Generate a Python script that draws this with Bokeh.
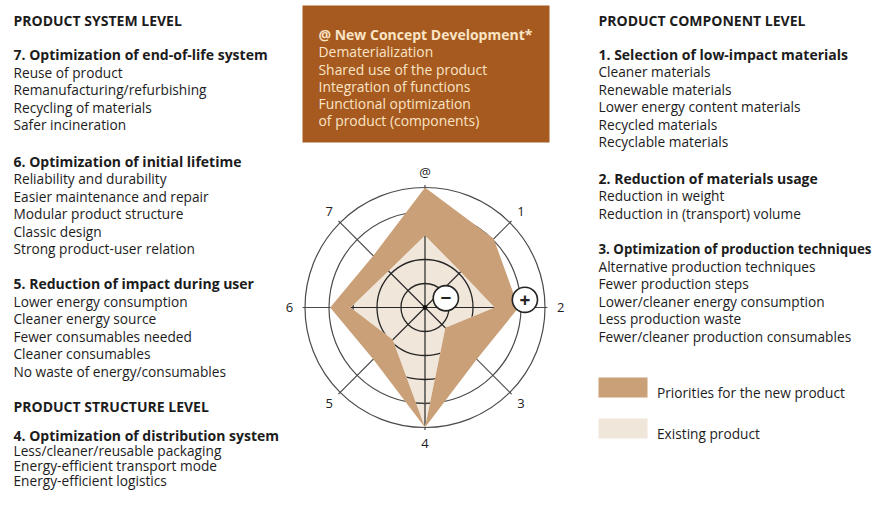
import numpy as np
from bokeh.plotting import figure
from bokeh.models import Range1d
from bokeh.core.properties import value
from bokeh.embed import file_html
from bokeh.resources import INLINE

# ---------------- data ----------------
axis_labels = ["@", "1", "2", "3", "4", "5", "6", "7"]
priorities = [1.00, 0.81, 0.78, 0.61, 1.00, 0.61, 0.79, 0.61]
existing = [0.60, 0.42, 0.58, 0.24, 1.00, 0.38, 0.62, 0.43]
inner_rings = [0.2, 0.4, 0.6, 0.8]
outer_rings = [0.8, 1.0]
sign_labels = ["\u2212", "+"]
sign_radius = [0.19, 0.835]
sign_angle_deg = [24.0, 4.4]

legend_labels = ["Priorities for the new product", "Existing product"]

box_title = "@ New Concept Development*"
box_items = ["Dematerialization", "Shared use of the product", "Integration of functions",
             "Functional optimization", "of product (components)"]

left_title1 = "PRODUCT SYSTEM LEVEL"
g7_head = "7. Optimization of end-of-life system"
g7_items = ["Reuse of product", "Remanufacturing/refurbishing", "Recycling of materials",
            "Safer incineration"]
g6_head = "6. Optimization of initial lifetime"
g6_items = ["Reliability and durability", "Easier maintenance and repair",
            "Modular product structure", "Classic design", "Strong product-user relation"]
g5_head = "5. Reduction of impact during user"
g5_items = ["Lower energy consumption", "Cleaner energy source", "Fewer consumables needed",
            "Cleaner consumables", "No waste of energy/consumables"]
left_title2 = "PRODUCT STRUCTURE LEVEL"
g4_head = "4. Optimization of distribution system"
g4_items = ["Less/cleaner/reusable packaging", "Energy-efficient transport mode",
            "Energy-efficient  logistics"]

right_title = "PRODUCT COMPONENT LEVEL"
g1_head = "1. Selection of low-impact materials"
g1_items = ["Cleaner materials", "Renewable materials", "Lower energy content materials",
            "Recycled materials", "Recyclable materials"]
g2_head = "2. Reduction of materials usage"
g2_items = ["Reduction in weight", "Reduction in (transport) volume"]
g3_head = "3. Optimization of production techniques"
g3_items = ["Alternative production techniques", "Fewer production steps",
            "Lower/cleaner energy consumption", "Less production waste",
            "Fewer/cleaner production consumables"]

# ---------------- layout / style ----------------
CX, CY, R = 424.5, 307.0, 120.0   # radar centre (picture px) and radius of outer ring
W, H = 875, 492

def X(px):
    return (px - CX) / R

def Y(py):
    return (CY - py) / R

FONT = value("Open Sans")
TXT = "#1c1c1c"
DARK = "#C9A077"
LIGHT = "#F1E6DA"
BOX = "#A65A1F"
BOX_TXT = "#FBE4C6"
LS = 17.45

p = figure(width=W, height=H, x_range=Range1d(X(0), X(W)),
           y_range=Range1d(Y(H), Y(0)), output_backend="svg",
           toolbar_location=None, x_axis_location=None, y_axis_location=None,
           min_border=0, background_fill_color="white", border_fill_color="white")
p.outline_line_color = None
p.xgrid.visible = False
p.ygrid.visible = False

theta = np.deg2rad(90.0 - 45.0 * np.arange(len(axis_labels)))
cs, sn = np.cos(theta), np.sin(theta)
pr = np.array(priorities)
ex = np.array(existing)
pr_x, pr_y = list(pr * cs), list(pr * sn)
ex_x, ex_y = list(ex * cs), list(ex * sn)

# 1. existing product area
p.patch(ex_x, ex_y, fill_color=LIGHT, line_color=None)
# 2. inner grid (visible only inside the existing-product area)
n = len(inner_rings)
p.circle(x=[0] * n, y=[0] * n, radius=inner_rings, fill_color=None,
         line_color="#262626", line_width=1.3)
p.segment(x0=[0] * 8, y0=[0] * 8, x1=list(cs), y1=list(sn), line_color="#262626", line_width=1.2)
# 3. white mask outside the existing-product area
t = np.linspace(0, 2 * np.pi, 240, endpoint=False)
mask_x = list(1.12 * np.cos(t))
mask_y = list(1.12 * np.sin(t))
p.multi_polygons(xs=[[[mask_x, ex_x]]], ys=[[[mask_y, ex_y]]], fill_color="white", line_color=None)
# 4. outer grid
m = len(outer_rings)
p.circle(x=[0] * m, y=[0] * m, radius=outer_rings, fill_color=None,
         line_color="#4a4a4a", line_width=1.2)
p.segment(x0=list(ex * cs), y0=list(ex * sn), x1=list(1.02 * cs), y1=list(1.02 * sn),
          line_color="#4a4a4a", line_width=1.2)
# 5. priorities area (ring between existing and priorities)
p.multi_polygons(xs=[[[pr_x, ex_x]]], ys=[[[pr_y, ex_y]]], fill_color=DARK, line_color=None)
# 6. centre dot, signs, axis labels
p.scatter([0], [0], size=4, color="#111111")
sa = np.deg2rad(np.array(sign_angle_deg))
sx = list(np.array(sign_radius) * np.cos(sa))
sy = list(np.array(sign_radius) * np.sin(sa))
p.circle(x=sx, y=sy, radius=0.105, fill_color="white", line_color="#222222", line_width=1.6)
p.text(x=sx, y=sy, text=sign_labels, text_align="center", text_baseline="middle",
       text_font=FONT, text_font_style="bold", text_font_size="19px", text_color="#222222")
p.text(x=list(1.13 * cs), y=list(1.13 * sn), text=axis_labels, text_align="center",
       text_baseline="middle", text_font=FONT, text_font_size="13px", text_color="#222222")

# ---------------- text blocks ----------------
def block(x_px, base_px, head, items, bold_size="14px", size="13.7px", spacing=LS, color=TXT):
    p.text(x=[X(x_px)], y=[Y(base_px)], text=[head], text_font=FONT, text_font_style="bold",
           text_font_size=bold_size, text_color=color, text_baseline="alphabetic")
    if items:
        ys = [Y(base_px + spacing * (i + 1)) for i in range(len(items))]
        p.text(x=[X(x_px)] * len(items), y=ys, text=items, text_font=FONT,
               text_font_size=size, text_color=color, text_baseline="alphabetic")

# left column
block(13, 20.0, left_title1, [])
block(13, 54.3, g7_head, g7_items)
block(13, 160.7, g6_head, g6_items)
block(13, 283.3, g5_head, g5_items)
block(13, 406.0, left_title2, [])
block(13, 435.0, g4_head, g4_items, spacing=15.0)

# right column
block(598, 20.0, right_title, [])
block(598, 54.0, g1_head, g1_items)
block(598, 177.7, g2_head, g2_items)
block(598, 248.3, g3_head, g3_items, bold_size="13.3px")

# brown box
p.quad(left=[X(302)], right=[X(549)], top=[Y(5)], bottom=[Y(142)], fill_color=BOX, line_color=None)
block(318, 34.3, box_title, box_items, spacing=17.15, color=BOX_TXT, size="13.9px")

# legend
p.quad(left=[X(598), X(598)], right=[X(647), X(647)], top=[Y(377), Y(418)],
       bottom=[Y(397), Y(438)], fill_color=[DARK, LIGHT], line_color=None)
p.text(x=[X(656.5)] * 2, y=[Y(391.7), Y(432.7)], text=legend_labels, text_font=FONT,
       text_font_size="13.7px", text_color=TXT, text_baseline="alphabetic")

open("out.html", "w").write(file_html(p, INLINE))
